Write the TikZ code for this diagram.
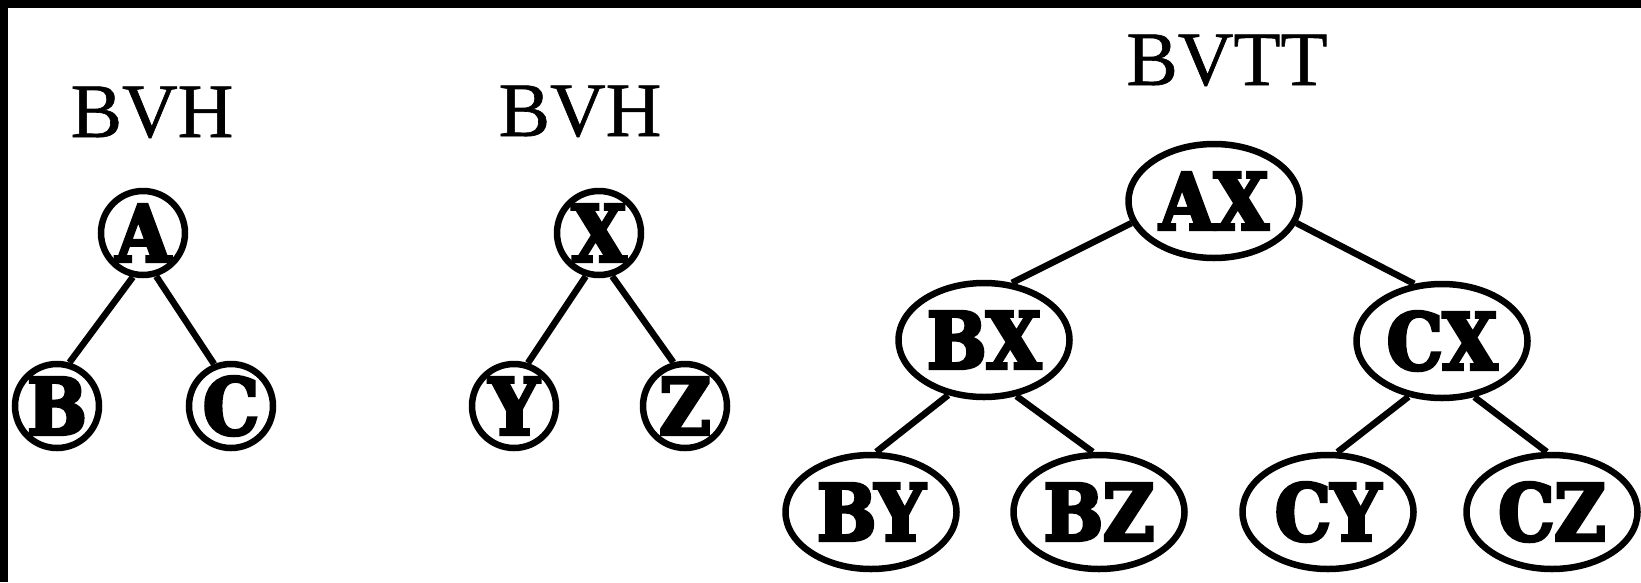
\documentclass[tikz,border=0pt]{standalone}
\usepackage{fontspec}
\setmainfont{Liberation Serif}[FakeBold=0.8]
\newfontfamily\nodefont{DejaVu Serif Condensed Bold}[FakeBold=4.5]
\usetikzlibrary{shapes.geometric}

\tikzset{
  title/.style={anchor=base, inner sep=0pt, font=\fontsize{77}{80}\selectfont},
  leaf/.style={circle, draw, line width=6.5pt, minimum size=84pt, inner sep=0pt,
               font=\nodefont\fontsize{78}{80}\selectfont},
  pair/.style={ellipse, draw, line width=6.5pt, minimum width=171pt, minimum height=114pt,
               inner sep=0pt, font=\nodefont\fontsize{78}{80}\selectfont},
  edge/.style={line width=6.5pt}
}

\begin{document}
\begin{tikzpicture}[x=1pt, y=-1pt]
  \useasboundingbox (0,0) rectangle (1641,582);
  \fill[white] (0,0) rectangle (1641,582);
  % frame bands along the top and left edges
  \fill[black] (0,0) rectangle (1641,8);
  \fill[black] (0,0) rectangle (8,582);

  % first hierarchy
  \node[title] (t1) at (152,137) {BVH};
  \node[leaf] (A) at (143,233) {A};
  \node[leaf] (B) at (57,406) {B};
  \node[leaf] (C) at (231,406) {C};
  \draw[edge] (A.257) -- (B.74);
  \draw[edge] (A.287) -- (C.112);

  % second hierarchy
  \node[title] (t2) at (580,136) {BVH};
  \node[leaf] (X) at (599,233) {X};
  \node[leaf] (Y) at (514,406) {Y};
  \node[leaf] (Z) at (685,406) {Z};
  \draw[edge] (X.253) -- (Y.72);
  \draw[edge] (X.287) -- (Z.105);

  % traversal tree of the two hierarchies
  \node[title] (t3) at (1227,85) {BVTT};
  \node[pair] (AX) at (1214,201) {AX};
  \node[pair] (BX) at (984,340) {BX};
  \node[pair] (CX) at (1442,341) {CX};
  \node[pair] (BY) at (871,512) {BY};
  \node[pair] (BZ) at (1099,512) {BZ};
  \node[pair] (CY) at (1328,512) {CY};
  \node[pair] (CZ) at (1552,512) {CZ};
  \draw[edge] (AX.195) -- (BX.64);
  \draw[edge] (AX.345) -- (CX.116);
  \draw[edge] (BX.237) -- (BY.85);
  \draw[edge] (BX.300) -- (BZ.96);
  \draw[edge] (CX.239) -- (CY.81);
  \draw[edge] (CX.300) -- (CZ.95);
\end{tikzpicture}
\end{document}
